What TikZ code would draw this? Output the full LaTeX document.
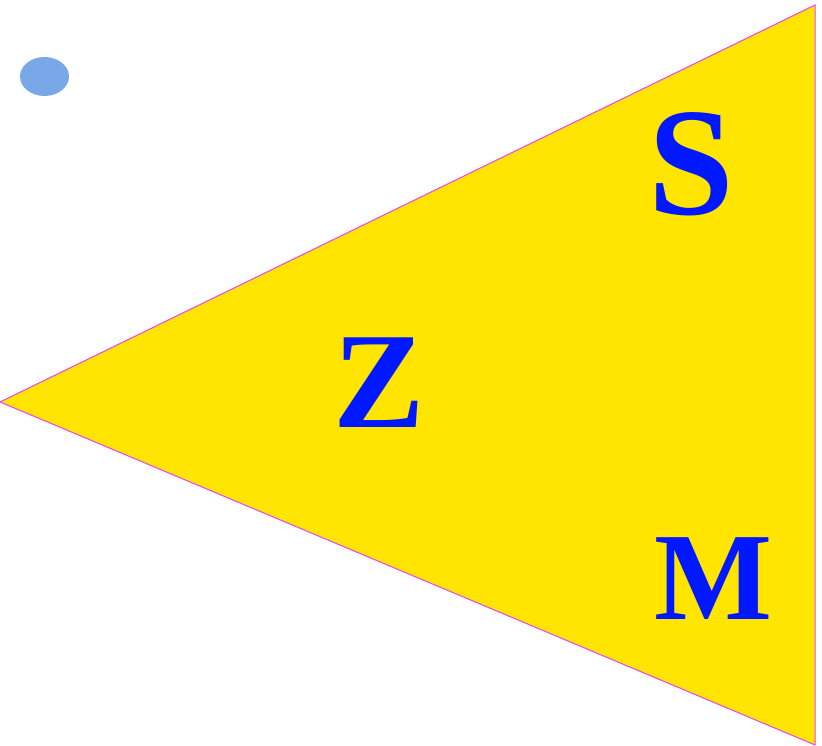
\documentclass[tikz,border=0pt]{standalone}
\usepackage{fontspec}
\setmainfont{Liberation Serif}
\definecolor{triyellow}{HTML}{FFE500}
\definecolor{triedge}{HTML}{F040F0}
\definecolor{dotblue}{HTML}{78A8E8}
\definecolor{letblue}{HTML}{0018FF}
\tikzset{
  letter/.style={inner sep=0pt, anchor=base, text=letblue, font=\bfseries},
}
\begin{document}
\begin{tikzpicture}[x=1pt,y=1pt]
\useasboundingbox (0,0) rectangle (822,746);
\coordinate (L) at (0,344);
\coordinate (T) at (815,741);
\coordinate (B) at (815,1);
\fill[triyellow] (L) -- (T) -- (B) -- cycle;
\draw[triedge, line width=1pt, line join=miter] (L) -- (T) -- (B) -- cycle;
\fill[dotblue] (44.5,669.5) ellipse [x radius=24.5, y radius=19.5];
\node[letter, font=\bfseries\fontsize{154}{154}\selectfont] (S) at (691,531) {S};
\node[letter, font=\bfseries\fontsize{137}{137}\selectfont] (Z) at (379,318) {Z};
\node[letter, font=\bfseries\fontsize{125}{125}\selectfont] (M) at (713,126) {M};
\end{tikzpicture}
\end{document}
